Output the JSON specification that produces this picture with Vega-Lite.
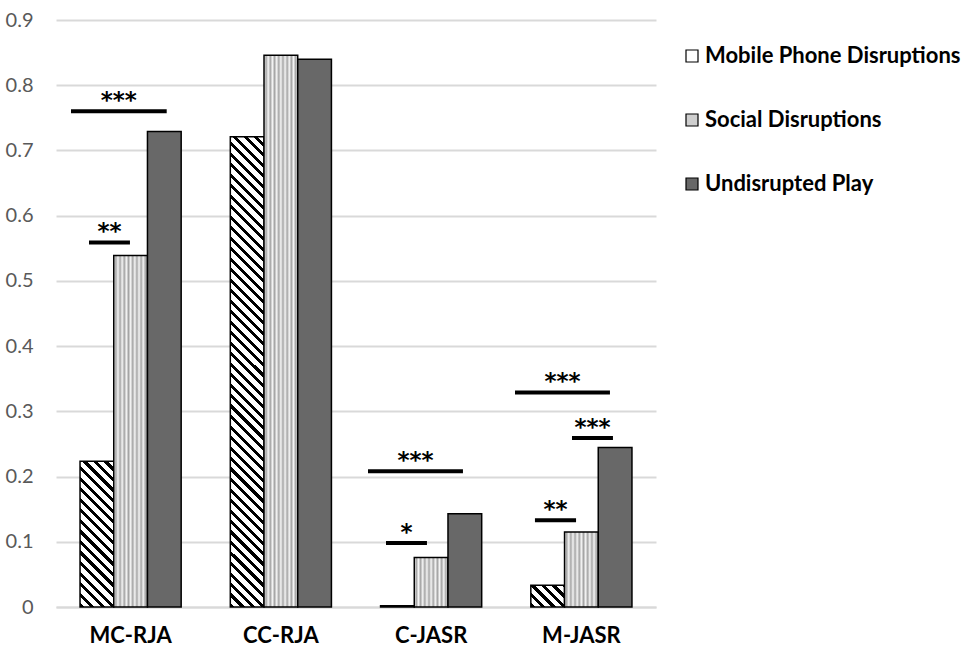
{
  "$schema": "https://vega.github.io/schema/vega-lite/v6.json",
  "autosize": {"type": "none"},
  "width": 600,
  "height": 587,
  "padding": {"left": 56, "top": 20, "right": 311, "bottom": 45},
  "background": "white",
  "config": {"view": {"stroke": null}},
  "layer": [
    {
      "data": {"values": [
        {"group": "MC-RJA", "series": "Mobile Phone Disruptions", "value": 0.2235},
        {"group": "MC-RJA", "series": "Social Disruptions", "value": 0.539},
        {"group": "MC-RJA", "series": "Undisrupted Play", "value": 0.729},
        {"group": "CC-RJA", "series": "Mobile Phone Disruptions", "value": 0.721},
        {"group": "CC-RJA", "series": "Social Disruptions", "value": 0.846},
        {"group": "CC-RJA", "series": "Undisrupted Play", "value": 0.84},
        {"group": "C-JASR", "series": "Mobile Phone Disruptions", "value": 0.002},
        {"group": "C-JASR", "series": "Social Disruptions", "value": 0.076},
        {"group": "C-JASR", "series": "Undisrupted Play", "value": 0.143},
        {"group": "M-JASR", "series": "Mobile Phone Disruptions", "value": 0.0333},
        {"group": "M-JASR", "series": "Social Disruptions", "value": 0.115},
        {"group": "M-JASR", "series": "Undisrupted Play", "value": 0.2445}
      ]},
      "mark": {"type": "bar", "stroke": "#000", "strokeWidth": 1.5},
      "encoding": {
        "x": {"field": "group", "type": "nominal", "sort": ["MC-RJA", "CC-RJA", "C-JASR", "M-JASR"],
              "scale": {"paddingInner": 0.327, "paddingOuter": 0.16},
              "axis": {"title": null, "labelAngle": 0, "labelFont": "Lato", "labelFontWeight": "bold", "labelFontSize": 22, "labelColor": "#000", "labelPadding": 18, "ticks": false, "domainColor": "#d9d9d9", "domainWidth": 2}},
        "xOffset": {"field": "series", "type": "nominal", "scale": {"domain": ["Mobile Phone Disruptions", "Social Disruptions", "Undisrupted Play"], "paddingInner": 0, "paddingOuter": 0}},
        "y": {"field": "value", "type": "quantitative", "scale": {"domain": [0, 0.9], "nice": false},
              "axis": {"title": null, "values": [0, 0.1, 0.2, 0.3, 0.4, 0.5, 0.6, 0.7, 0.8, 0.9], "format": ".1~f", "grid": true, "gridColor": "#d9d9d9", "gridWidth": 2, "domain": false, "ticks": false, "tickSize": 0, "labelPadding": 23, "labelFont": "Lato", "labelFontSize": 20, "labelColor": "#595959"}},
        "fill": {
          "field": "series", "type": "nominal",
          "scale": {"domain": ["Mobile Phone Disruptions", "Social Disruptions", "Undisrupted Play"], "range": ["#ffffff", "#cfcfcf", "#686868"]},
          "legend": {
            "title": null, "orient": "none", "legendX": 625, "legendY": 25,
            "symbolType": "square", "symbolSize": 144, "symbolStrokeColor": "#000", "symbolStrokeWidth": 1.2, "symbolOpacity": 1,
            "labelFont": "Lato", "labelFontWeight": "bold", "labelFontSize": 22, "labelColor": "#000", "labelOffset": 2, "labelLimit": 400,
            "rowPadding": 42,
            "encode": {"symbols": {"update": {
              "stroke": {"value": "#000"},
              "strokeWidth": {"value": 1.2},
              "fill": {"signal": "datum.value === 'Mobile Phone Disruptions' ? {gradient: 'linear', x1: 0, y1: 1, x2: 1, y2: 0, stops: [{offset: 0, color: '#000'}, {offset: 0.18, color: '#000'}, {offset: 0.18, color: '#fff'}, {offset: 0.44, color: '#fff'}, {offset: 0.44, color: '#000'}, {offset: 0.62, color: '#000'}, {offset: 0.62, color: '#fff'}, {offset: 0.88, color: '#fff'}, {offset: 0.88, color: '#000'}, {offset: 1, color: '#000'}]} : (datum.value === 'Social Disruptions' ? '#cfcfcf' : '#686868')"}
            }}}
          },
          "condition": [
            {"test": "datum.group === 'MC-RJA' && datum.series === 'Mobile Phone Disruptions'",
             "value": {"gradient": "linear", "x1": 0, "y1": 1, "x2": 0.2701, "y2": -0.1687, "stops": [
              {"offset": 0, "color": "#000"}, {"offset": 0.0235, "color": "#000"}, {"offset": 0.0235, "color": "#fff"}, {"offset": 0.0588, "color": "#fff"},
              {"offset": 0.0588, "color": "#000"}, {"offset": 0.0824, "color": "#000"}, {"offset": 0.0824, "color": "#fff"}, {"offset": 0.1176, "color": "#fff"},
              {"offset": 0.1176, "color": "#000"}, {"offset": 0.1412, "color": "#000"}, {"offset": 0.1412, "color": "#fff"}, {"offset": 0.1765, "color": "#fff"},
              {"offset": 0.1765, "color": "#000"}, {"offset": 0.2, "color": "#000"}, {"offset": 0.2, "color": "#fff"}, {"offset": 0.2353, "color": "#fff"},
              {"offset": 0.2353, "color": "#000"}, {"offset": 0.2588, "color": "#000"}, {"offset": 0.2588, "color": "#fff"}, {"offset": 0.2941, "color": "#fff"},
              {"offset": 0.2941, "color": "#000"}, {"offset": 0.3176, "color": "#000"}, {"offset": 0.3176, "color": "#fff"}, {"offset": 0.3529, "color": "#fff"},
              {"offset": 0.3529, "color": "#000"}, {"offset": 0.3765, "color": "#000"}, {"offset": 0.3765, "color": "#fff"}, {"offset": 0.4118, "color": "#fff"},
              {"offset": 0.4118, "color": "#000"}, {"offset": 0.4353, "color": "#000"}, {"offset": 0.4353, "color": "#fff"}, {"offset": 0.4706, "color": "#fff"},
              {"offset": 0.4706, "color": "#000"}, {"offset": 0.4941, "color": "#000"}, {"offset": 0.4941, "color": "#fff"}, {"offset": 0.5294, "color": "#fff"},
              {"offset": 0.5294, "color": "#000"}, {"offset": 0.5529, "color": "#000"}, {"offset": 0.5529, "color": "#fff"}, {"offset": 0.5882, "color": "#fff"},
              {"offset": 0.5882, "color": "#000"}, {"offset": 0.6118, "color": "#000"}, {"offset": 0.6118, "color": "#fff"}, {"offset": 0.6471, "color": "#fff"},
              {"offset": 0.6471, "color": "#000"}, {"offset": 0.6706, "color": "#000"}, {"offset": 0.6706, "color": "#fff"}, {"offset": 0.7059, "color": "#fff"},
              {"offset": 0.7059, "color": "#000"}, {"offset": 0.7294, "color": "#000"}, {"offset": 0.7294, "color": "#fff"}, {"offset": 0.7647, "color": "#fff"},
              {"offset": 0.7647, "color": "#000"}, {"offset": 0.7882, "color": "#000"}, {"offset": 0.7882, "color": "#fff"}, {"offset": 0.8235, "color": "#fff"},
              {"offset": 0.8235, "color": "#000"}, {"offset": 0.8471, "color": "#000"}, {"offset": 0.8471, "color": "#fff"}, {"offset": 0.8824, "color": "#fff"},
              {"offset": 0.8824, "color": "#000"}, {"offset": 0.9059, "color": "#000"}, {"offset": 0.9059, "color": "#fff"}, {"offset": 0.9412, "color": "#fff"},
              {"offset": 0.9412, "color": "#000"}, {"offset": 0.9647, "color": "#000"}, {"offset": 0.9647, "color": "#fff"}, {"offset": 1, "color": "#fff"}
             ]}},
            {"test": "datum.group === 'CC-RJA' && datum.series === 'Mobile Phone Disruptions'",
             "value": {"gradient": "linear", "x1": 0, "y1": 1, "x2": 0.07641, "y2": -0.06618, "stops": [
              {"offset": 0, "color": "#000"}, {"offset": 0.0083, "color": "#000"}, {"offset": 0.0083, "color": "#fff"}, {"offset": 0.0208, "color": "#fff"},
              {"offset": 0.0208, "color": "#000"}, {"offset": 0.0292, "color": "#000"}, {"offset": 0.0292, "color": "#fff"}, {"offset": 0.0417, "color": "#fff"},
              {"offset": 0.0417, "color": "#000"}, {"offset": 0.05, "color": "#000"}, {"offset": 0.05, "color": "#fff"}, {"offset": 0.0625, "color": "#fff"},
              {"offset": 0.0625, "color": "#000"}, {"offset": 0.0708, "color": "#000"}, {"offset": 0.0708, "color": "#fff"}, {"offset": 0.0833, "color": "#fff"},
              {"offset": 0.0833, "color": "#000"}, {"offset": 0.0917, "color": "#000"}, {"offset": 0.0917, "color": "#fff"}, {"offset": 0.1042, "color": "#fff"},
              {"offset": 0.1042, "color": "#000"}, {"offset": 0.1125, "color": "#000"}, {"offset": 0.1125, "color": "#fff"}, {"offset": 0.125, "color": "#fff"},
              {"offset": 0.125, "color": "#000"}, {"offset": 0.1333, "color": "#000"}, {"offset": 0.1333, "color": "#fff"}, {"offset": 0.1458, "color": "#fff"},
              {"offset": 0.1458, "color": "#000"}, {"offset": 0.1542, "color": "#000"}, {"offset": 0.1542, "color": "#fff"}, {"offset": 0.1667, "color": "#fff"},
              {"offset": 0.1667, "color": "#000"}, {"offset": 0.175, "color": "#000"}, {"offset": 0.175, "color": "#fff"}, {"offset": 0.1875, "color": "#fff"},
              {"offset": 0.1875, "color": "#000"}, {"offset": 0.1958, "color": "#000"}, {"offset": 0.1958, "color": "#fff"}, {"offset": 0.2083, "color": "#fff"},
              {"offset": 0.2083, "color": "#000"}, {"offset": 0.2167, "color": "#000"}, {"offset": 0.2167, "color": "#fff"}, {"offset": 0.2292, "color": "#fff"},
              {"offset": 0.2292, "color": "#000"}, {"offset": 0.2375, "color": "#000"}, {"offset": 0.2375, "color": "#fff"}, {"offset": 0.25, "color": "#fff"},
              {"offset": 0.25, "color": "#000"}, {"offset": 0.2583, "color": "#000"}, {"offset": 0.2583, "color": "#fff"}, {"offset": 0.2708, "color": "#fff"},
              {"offset": 0.2708, "color": "#000"}, {"offset": 0.2792, "color": "#000"}, {"offset": 0.2792, "color": "#fff"}, {"offset": 0.2917, "color": "#fff"},
              {"offset": 0.2917, "color": "#000"}, {"offset": 0.3, "color": "#000"}, {"offset": 0.3, "color": "#fff"}, {"offset": 0.3125, "color": "#fff"},
              {"offset": 0.3125, "color": "#000"}, {"offset": 0.3208, "color": "#000"}, {"offset": 0.3208, "color": "#fff"}, {"offset": 0.3333, "color": "#fff"},
              {"offset": 0.3333, "color": "#000"}, {"offset": 0.3417, "color": "#000"}, {"offset": 0.3417, "color": "#fff"}, {"offset": 0.3542, "color": "#fff"},
              {"offset": 0.3542, "color": "#000"}, {"offset": 0.3625, "color": "#000"}, {"offset": 0.3625, "color": "#fff"}, {"offset": 0.375, "color": "#fff"},
              {"offset": 0.375, "color": "#000"}, {"offset": 0.3833, "color": "#000"}, {"offset": 0.3833, "color": "#fff"}, {"offset": 0.3958, "color": "#fff"},
              {"offset": 0.3958, "color": "#000"}, {"offset": 0.4042, "color": "#000"}, {"offset": 0.4042, "color": "#fff"}, {"offset": 0.4167, "color": "#fff"},
              {"offset": 0.4167, "color": "#000"}, {"offset": 0.425, "color": "#000"}, {"offset": 0.425, "color": "#fff"}, {"offset": 0.4375, "color": "#fff"},
              {"offset": 0.4375, "color": "#000"}, {"offset": 0.4458, "color": "#000"}, {"offset": 0.4458, "color": "#fff"}, {"offset": 0.4583, "color": "#fff"},
              {"offset": 0.4583, "color": "#000"}, {"offset": 0.4667, "color": "#000"}, {"offset": 0.4667, "color": "#fff"}, {"offset": 0.4792, "color": "#fff"},
              {"offset": 0.4792, "color": "#000"}, {"offset": 0.4875, "color": "#000"}, {"offset": 0.4875, "color": "#fff"}, {"offset": 0.5, "color": "#fff"},
              {"offset": 0.5, "color": "#000"}, {"offset": 0.5083, "color": "#000"}, {"offset": 0.5083, "color": "#fff"}, {"offset": 0.5208, "color": "#fff"},
              {"offset": 0.5208, "color": "#000"}, {"offset": 0.5292, "color": "#000"}, {"offset": 0.5292, "color": "#fff"}, {"offset": 0.5417, "color": "#fff"},
              {"offset": 0.5417, "color": "#000"}, {"offset": 0.55, "color": "#000"}, {"offset": 0.55, "color": "#fff"}, {"offset": 0.5625, "color": "#fff"},
              {"offset": 0.5625, "color": "#000"}, {"offset": 0.5708, "color": "#000"}, {"offset": 0.5708, "color": "#fff"}, {"offset": 0.5833, "color": "#fff"},
              {"offset": 0.5833, "color": "#000"}, {"offset": 0.5917, "color": "#000"}, {"offset": 0.5917, "color": "#fff"}, {"offset": 0.6042, "color": "#fff"},
              {"offset": 0.6042, "color": "#000"}, {"offset": 0.6125, "color": "#000"}, {"offset": 0.6125, "color": "#fff"}, {"offset": 0.625, "color": "#fff"},
              {"offset": 0.625, "color": "#000"}, {"offset": 0.6333, "color": "#000"}, {"offset": 0.6333, "color": "#fff"}, {"offset": 0.6458, "color": "#fff"},
              {"offset": 0.6458, "color": "#000"}, {"offset": 0.6542, "color": "#000"}, {"offset": 0.6542, "color": "#fff"}, {"offset": 0.6667, "color": "#fff"},
              {"offset": 0.6667, "color": "#000"}, {"offset": 0.675, "color": "#000"}, {"offset": 0.675, "color": "#fff"}, {"offset": 0.6875, "color": "#fff"},
              {"offset": 0.6875, "color": "#000"}, {"offset": 0.6958, "color": "#000"}, {"offset": 0.6958, "color": "#fff"}, {"offset": 0.7083, "color": "#fff"},
              {"offset": 0.7083, "color": "#000"}, {"offset": 0.7167, "color": "#000"}, {"offset": 0.7167, "color": "#fff"}, {"offset": 0.7292, "color": "#fff"},
              {"offset": 0.7292, "color": "#000"}, {"offset": 0.7375, "color": "#000"}, {"offset": 0.7375, "color": "#fff"}, {"offset": 0.75, "color": "#fff"},
              {"offset": 0.75, "color": "#000"}, {"offset": 0.7583, "color": "#000"}, {"offset": 0.7583, "color": "#fff"}, {"offset": 0.7708, "color": "#fff"},
              {"offset": 0.7708, "color": "#000"}, {"offset": 0.7792, "color": "#000"}, {"offset": 0.7792, "color": "#fff"}, {"offset": 0.7917, "color": "#fff"},
              {"offset": 0.7917, "color": "#000"}, {"offset": 0.8, "color": "#000"}, {"offset": 0.8, "color": "#fff"}, {"offset": 0.8125, "color": "#fff"},
              {"offset": 0.8125, "color": "#000"}, {"offset": 0.8208, "color": "#000"}, {"offset": 0.8208, "color": "#fff"}, {"offset": 0.8333, "color": "#fff"},
              {"offset": 0.8333, "color": "#000"}, {"offset": 0.8417, "color": "#000"}, {"offset": 0.8417, "color": "#fff"}, {"offset": 0.8542, "color": "#fff"},
              {"offset": 0.8542, "color": "#000"}, {"offset": 0.8625, "color": "#000"}, {"offset": 0.8625, "color": "#fff"}, {"offset": 0.875, "color": "#fff"},
              {"offset": 0.875, "color": "#000"}, {"offset": 0.8833, "color": "#000"}, {"offset": 0.8833, "color": "#fff"}, {"offset": 0.8958, "color": "#fff"},
              {"offset": 0.8958, "color": "#000"}, {"offset": 0.9042, "color": "#000"}, {"offset": 0.9042, "color": "#fff"}, {"offset": 0.9167, "color": "#fff"},
              {"offset": 0.9167, "color": "#000"}, {"offset": 0.925, "color": "#000"}, {"offset": 0.925, "color": "#fff"}, {"offset": 0.9375, "color": "#fff"},
              {"offset": 0.9375, "color": "#000"}, {"offset": 0.9458, "color": "#000"}, {"offset": 0.9458, "color": "#fff"}, {"offset": 0.9583, "color": "#fff"},
              {"offset": 0.9583, "color": "#000"}, {"offset": 0.9667, "color": "#000"}, {"offset": 0.9667, "color": "#fff"}, {"offset": 0.9792, "color": "#fff"},
              {"offset": 0.9792, "color": "#000"}, {"offset": 0.9875, "color": "#000"}, {"offset": 0.9875, "color": "#fff"}, {"offset": 1, "color": "#fff"}
             ]}},
            {"test": "datum.group === 'M-JASR' && datum.series === 'Mobile Phone Disruptions'",
             "value": {"gradient": "linear", "x1": 0, "y1": 1, "x2": 1.1621, "y2": 0.2517, "stops": [
              {"offset": 0, "color": "#000"}, {"offset": 0.076, "color": "#000"}, {"offset": 0.076, "color": "#fff"}, {"offset": 0.19, "color": "#fff"},
              {"offset": 0.19, "color": "#000"}, {"offset": 0.266, "color": "#000"}, {"offset": 0.266, "color": "#fff"}, {"offset": 0.38, "color": "#fff"},
              {"offset": 0.38, "color": "#000"}, {"offset": 0.456, "color": "#000"}, {"offset": 0.456, "color": "#fff"}, {"offset": 0.57, "color": "#fff"},
              {"offset": 0.57, "color": "#000"}, {"offset": 0.646, "color": "#000"}, {"offset": 0.646, "color": "#fff"}, {"offset": 0.76, "color": "#fff"},
              {"offset": 0.76, "color": "#000"}, {"offset": 0.836, "color": "#000"}, {"offset": 0.836, "color": "#fff"}, {"offset": 0.95, "color": "#fff"},
              {"offset": 0.95, "color": "#000"}, {"offset": 1, "color": "#000"}
             ]}},
            {"test": "datum.series === 'Social Disruptions'",
             "value": {"gradient": "linear", "x1": 0, "y1": 0, "x2": 1, "y2": 0, "stops": [
              {"offset": 0, "color": "#f5f5f5"}, {"offset": 0.0625, "color": "#a5a5a5"}, {"offset": 0.125, "color": "#f5f5f5"}, {"offset": 0.1875, "color": "#a5a5a5"},
              {"offset": 0.25, "color": "#f5f5f5"}, {"offset": 0.3125, "color": "#a5a5a5"}, {"offset": 0.375, "color": "#f5f5f5"}, {"offset": 0.4375, "color": "#a5a5a5"},
              {"offset": 0.5, "color": "#f5f5f5"}, {"offset": 0.5625, "color": "#a5a5a5"}, {"offset": 0.625, "color": "#f5f5f5"}, {"offset": 0.6875, "color": "#a5a5a5"},
              {"offset": 0.75, "color": "#f5f5f5"}, {"offset": 0.8125, "color": "#a5a5a5"}, {"offset": 0.875, "color": "#f5f5f5"}, {"offset": 0.9375, "color": "#a5a5a5"},
              {"offset": 1, "color": "#f5f5f5"}
             ]}}
          ]
        }
      }
    },
    {
      "data": {"values": [
        {"x1": 0.1, "x2": 0.738, "xm": 0.419, "y": 0.76, "label": "***"},
        {"x1": 0.22, "x2": 0.493, "xm": 0.357, "y": 0.559, "label": "**"},
        {"x1": 2.08, "x2": 2.713, "xm": 2.397, "y": 0.208, "label": "***"},
        {"x1": 2.2, "x2": 2.473, "xm": 2.337, "y": 0.098, "label": "*"},
        {"x1": 3.06, "x2": 3.693, "xm": 3.377, "y": 0.329, "label": "***"},
        {"x1": 3.44, "x2": 3.713, "xm": 3.577, "y": 0.259, "label": "***"},
        {"x1": 3.193, "x2": 3.467, "xm": 3.33, "y": 0.133, "label": "**"}
      ]},
      "layer": [
        {
          "mark": {"type": "rule", "color": "#000", "strokeWidth": 4},
          "encoding": {
            "x": {"field": "x1", "type": "quantitative", "scale": {"domain": [0, 4], "nice": false, "zero": false}, "axis": null},
            "x2": {"field": "x2"},
            "y": {"field": "y", "type": "quantitative", "scale": {"domain": [0, 0.9], "nice": false}, "title": null}
          }
        },
        {
          "mark": {"type": "text", "font": "DejaVu Sans", "fontWeight": "bold", "fontSize": 23, "baseline": "alphabetic", "align": "center", "dy": -3, "color": "#000"},
          "encoding": {
            "x": {"field": "xm", "type": "quantitative", "scale": {"domain": [0, 4], "nice": false, "zero": false}, "axis": null},
            "y": {"field": "y", "type": "quantitative", "scale": {"domain": [0, 0.9], "nice": false}, "title": null},
            "text": {"field": "label"}
          }
        }
      ]
    }
  ],
  "resolve": {"scale": {"x": "independent"}}
}
